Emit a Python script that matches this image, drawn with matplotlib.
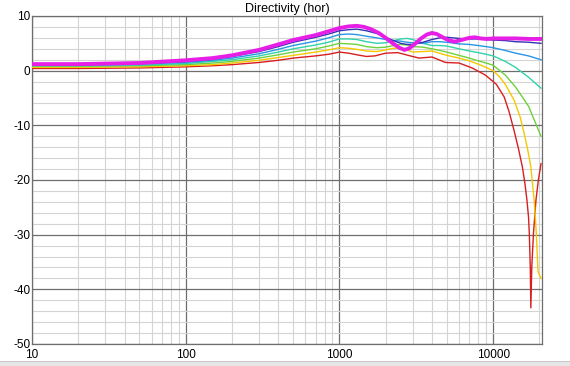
import matplotlib
matplotlib.use("Agg")
import matplotlib.pyplot as plt
from matplotlib.ticker import FixedLocator, NullFormatter
from matplotlib.patches import Rectangle

plt.rcParams['font.family'] = ['Liberation Sans', 'DejaVu Sans']
plt.rcParams['axes.unicode_minus'] = False

title = "Directivity (hor)"

freq_common = [10, 20, 50, 100, 150, 200, 300, 400, 500, 700, 850, 1000, 1150, 1300,
               1500, 1750, 2000, 2250, 2500, 2750, 3000, 3500, 4000, 4500, 5000, 6000,
               7000, 8000, 9000, 10000, 12000, 14000, 17000, 20500]

mag_f = [10, 20, 50, 100, 150, 200, 300, 400, 500, 700, 850, 1000, 1150, 1300, 1450,
         1600, 1800, 2000, 2200, 2450, 2650, 2850, 3100, 3400, 3700, 4000, 4300, 4700,
         5100, 5600, 6200, 7000, 7600, 8300, 9000, 10000, 12000, 14000, 17000, 20500]
mag_v = [1.2, 1.2, 1.4, 1.9, 2.3, 2.8, 3.8, 4.8, 5.6, 6.5, 7.2, 7.8, 8.1, 8.2, 8.0,
         7.6, 6.9, 6.0, 5.1, 4.2, 3.8, 4.1, 4.9, 5.9, 6.6, 6.9, 6.7, 6.1, 5.6, 5.3,
         5.6, 6.0, 6.1, 5.9, 5.8, 5.9, 5.9, 5.9, 5.8, 5.8]

blue_v = [1.1, 1.1, 1.3, 1.7, 2.1, 2.6, 3.5, 4.4, 5.2, 6.1, 6.7, 7.3, 7.5, 7.6,
          7.3, 6.8, 6.1, 5.5, 5.0, 4.8, 4.8, 5.2, 5.7, 6.0, 6.1, 5.9, 5.8, 5.8,
          5.7, 5.6, 5.5, 5.3, 5.2, 5.0]
sky_v = [1.0, 1.0, 1.2, 1.5, 1.9, 2.3, 3.1, 3.9, 4.6, 5.4, 6.0, 6.6, 6.7, 6.6,
         6.3, 6.0, 5.7, 5.5, 5.4, 5.2, 5.1, 5.0, 5.3, 5.3, 5.2, 4.9, 4.8, 4.6,
         4.4, 4.2, 3.7, 3.2, 2.7, 2.0]
aqua_v = [0.9, 0.9, 1.0, 1.3, 1.7, 2.0, 2.7, 3.4, 4.0, 4.7, 5.2, 5.8, 5.8, 5.7,
          5.3, 5.0, 5.1, 5.5, 5.8, 5.9, 5.7, 5.0, 4.6, 4.6, 4.5, 4.0, 3.6, 3.3,
          3.0, 2.7, 1.7, 0.6, -1.2, -3.2]
green_v = [0.8, 0.8, 0.9, 1.1, 1.4, 1.7, 2.3, 2.9, 3.4, 4.0, 4.5, 5.0, 4.9, 4.8,
           4.4, 4.2, 4.3, 4.6, 4.8, 4.7, 4.4, 4.3, 4.0, 3.7, 3.4, 2.8, 2.3, 1.8,
           1.4, 1.0, -0.8, -3.0, -6.5, -12.0]

yel_f = [10, 20, 50, 100, 150, 200, 300, 400, 500, 700, 850, 1000, 1150, 1300, 1500,
         1750, 2000, 2250, 2500, 2750, 3000, 3500, 4000, 5000, 6000, 7000, 8000, 9000,
         10000, 11000, 12000, 13700, 15000, 15900, 16800, 17600, 18500, 19100, 19600,
         20500]
yel_v = [0.6, 0.6, 0.7, 0.9, 1.1, 1.4, 1.9, 2.4, 2.8, 3.4, 3.8, 4.2, 4.1, 3.9, 3.6,
         3.5, 3.8, 4.1, 4.1, 3.8, 3.4, 3.5, 3.6, 2.8, 2.3, 1.8, 1.2, 0.6, 0.0, -1.1,
         -2.5, -5.4, -8.5, -11.4, -14.5, -17.6, -23.7, -29.8, -36.8, -38.0]

red_f = [10, 20, 50, 100, 150, 200, 300, 400, 500, 700, 850, 1000, 1150, 1300, 1500,
         1700, 2000, 2400, 2800, 3300, 4000, 4900, 6000, 7300, 8900, 10500, 11800,
         12700, 13700, 14600, 15500, 16100, 16600, 17000, 17200, 17450, 17600, 17850,
         18300, 19000, 19700, 20500]
red_v = [0.4, 0.4, 0.5, 0.7, 0.9, 1.1, 1.5, 1.9, 2.3, 2.7, 3.0, 3.4, 3.2, 2.9, 2.6,
         2.7, 3.2, 3.3, 2.8, 2.3, 2.5, 1.5, 1.4, 0.5, -0.8, -2.5, -4.8, -7.5, -11.0,
         -14.2, -17.6, -20.6, -23.7, -26.8, -29.8, -35.9, -43.4, -35.9, -29.8, -23.7,
         -20.0, -17.0]

fig = plt.figure(figsize=(5.7, 3.66), dpi=100)
fig.patches.append(Rectangle((0, 0), 1, 4 / 366, transform=fig.transFigure,
                             facecolor='#e6e6e6', edgecolor='none'))
fig.patches.append(Rectangle((0, 4 / 366), 1, 1 / 366, transform=fig.transFigure,
                             facecolor='#c8c8c8', edgecolor='none'))
ax = fig.add_axes([32 / 570, 22 / 366, 510 / 570, 328 / 366])
ax.set_xscale('log')
ax.set_xlim(10, 20800)
ax.set_ylim(-50, 10)

ax.plot(red_f, red_v, color='#d81e1e', lw=1.0, zorder=3)
ax.plot(yel_f, yel_v, color='#f5c800', lw=1.0, zorder=3)
ax.plot(freq_common, green_v, color='#6ed23c', lw=1.0, zorder=3)
ax.plot(freq_common, aqua_v, color='#32d2aa', lw=1.0, zorder=3)
ax.plot(freq_common, sky_v, color='#2896e6', lw=1.0, zorder=3)
ax.plot(freq_common, blue_v, color='#3232b4', lw=1.0, zorder=3)
ax.plot(mag_f, mag_v, color='#e61ee6', lw=2.8, zorder=4, solid_joinstyle='round')

ax.xaxis.set_major_locator(FixedLocator([10, 100, 1000, 10000]))
minors_x = [m * d for d in (10, 100, 1000, 10000) for m in range(2, 10) if m * d < 20800]
ax.xaxis.set_minor_locator(FixedLocator(minors_x))
ax.xaxis.set_minor_formatter(NullFormatter())
ax.set_xticklabels(['10', '100', '1000', '10000'])
ax.yaxis.set_major_locator(FixedLocator([-50, -40, -30, -20, -10, 0, 10]))
ax.yaxis.set_minor_locator(FixedLocator([v for v in range(-48, 10, 2) if v % 10 != 0]))

ax.grid(which='major', color='#6e6e6e', lw=0.9, zorder=1)
ax.grid(which='minor', color='#d4d4d4', lw=0.8, zorder=0)
ax.set_axisbelow(True)
for s in ax.spines.values():
    s.set_color('#6e6e6e')
    s.set_linewidth(0.9)
ax.tick_params(which='both', length=0, labelsize=8.5, colors='#000000')
ax.tick_params(axis='x', pad=3.5)
ax.tick_params(axis='y', pad=1)
for lab in ax.get_yticklabels():
    lab.set_verticalalignment('center_baseline')

ax.set_title(title, fontsize=9, pad=3)

fig.savefig('out.png', dpi=100)
